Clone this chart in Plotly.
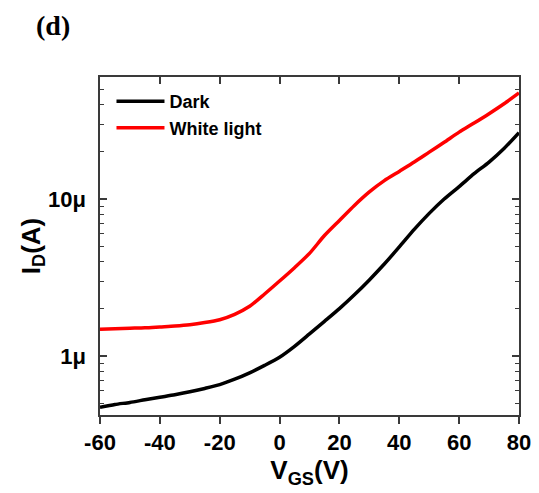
import plotly.graph_objects as go

vgs = [-60, -55, -50, -45, -40, -35, -30, -25, -20, -15, -10, -5, 0, 5, 10,
       15, 20, 25, 30, 35, 40, 45, 50, 55, 60, 65, 70, 75, 80]
dark_uA = [0.47, 0.49, 0.505, 0.525, 0.545, 0.565, 0.59, 0.62, 0.655, 0.71, 0.78,
           0.87, 0.98, 1.15, 1.38, 1.66, 2.0, 2.45, 3.05, 3.85, 4.95, 6.4, 8.1, 10.0,
           12.0, 14.5, 17.2, 21.0, 26.5]
light_uA = [1.48, 1.49, 1.50, 1.51, 1.53, 1.55, 1.58, 1.63, 1.70, 1.84, 2.07, 2.48,
            3.0, 3.65, 4.5, 5.85, 7.3, 9.1, 11.1, 13.1, 15.0, 17.2, 19.9, 23.0, 26.7,
            30.5, 35.0, 40.5, 47.5]
series_names = ["Dark", "White light"]
series_colors = ["#000000", "#ff0000"]
ytick_vals = [1e-6, 1e-5]
ytick_text = ["1\u03bc", "10\u03bc"]
yminor_vals = [0.5e-6, 0.6e-6, 0.7e-6, 0.8e-6, 0.9e-6,
               2e-6, 3e-6, 4e-6, 5e-6, 6e-6, 7e-6, 8e-6, 9e-6,
               2e-5, 3e-5, 4e-5, 5e-5]
xtick_vals = [-60, -40, -20, 0, 20, 40, 60, 80]
xtick_text = ["-60", "-40", "-20", "0", "20", "40", "60", "80"]

dark = [v * 1e-6 for v in dark_uA]
light = [v * 1e-6 for v in light_uA]

FONT = "Liberation Sans, Arial, sans-serif"
AX = "#3a3a3a"

fig = go.Figure()
for name, ys, col in zip(series_names, [dark, light], series_colors):
    fig.add_trace(go.Scatter(x=vgs, y=ys, mode="lines", name=name,
                             line=dict(color=col, width=3.5, shape="spline", smoothing=0.7)))

fig.update_layout(
    width=531, height=485,
    margin=dict(l=92, r=20, t=69, b=78, autoexpand=False),
    paper_bgcolor="white", plot_bgcolor="white",
    showlegend=True,
    legend=dict(x=0.0274, y=0.982, xanchor="left", yanchor="top",
                bgcolor="rgba(0,0,0,0)", borderwidth=0, itemwidth=48,
                tracegroupgap=0,
                font=dict(family=FONT, size=18, color="black", weight="bold")),
    xaxis=dict(range=[-60, 80], tickvals=xtick_vals, ticktext=xtick_text,
               ticks="outside", ticklen=7, automargin=False,
               tickwidth=1.5, tickcolor=AX, showline=True, linecolor=AX, linewidth=1.5,
               showgrid=False, zeroline=False, mirror=True,
               tickfont=dict(family=FONT, size=22, color="black", weight="bold"),
               title=dict(text="V<sub>GS</sub>(V)", standoff=0,
                          font=dict(family=FONT, size=26, color="black", weight="bold"))),
    xaxis2=dict(range=[-60, 80], tickvals=xtick_vals, ticks="inside", ticklen=7,
                tickwidth=1.5, tickcolor=AX, showticklabels=False, overlaying="x",
                side="top", showgrid=False, zeroline=False, showline=False,
                automargin=False),
    yaxis=dict(type="log", range=[-6.377, -4.222], tickvals=ytick_vals, ticktext=ytick_text,
               ticks="inside", ticklen=7, tickwidth=1.5, tickcolor=AX, automargin=False,
               showline=True, linecolor=AX, linewidth=1.5, mirror="ticks",
               showgrid=False, zeroline=False, ticklabelstandoff=8,
               minor=dict(ticks="inside", ticklen=4, tickwidth=1.2, tickcolor=AX,
                          tickvals=yminor_vals, showgrid=False),
               tickfont=dict(family=FONT, size=22, color="black", weight="bold"),
               title=dict(text="I<sub>D</sub>(A)", standoff=0,
                          font=dict(family=FONT, size=26, color="black", weight="bold"))),
)
fig.add_trace(go.Scatter(x=[vgs[0]], y=[dark[0]], xaxis="x2", mode="lines",
                         showlegend=False, hoverinfo="skip", line=dict(width=0)))

fig.add_annotation(text="(d)", xref="paper", yref="paper", x=-0.1575, y=1.152,
                   xanchor="left", yanchor="middle", showarrow=False,
                   font=dict(family="Liberation Serif, Times New Roman, serif", size=28,
                             color="black", weight="bold"))

fig.write_html("out.html")
